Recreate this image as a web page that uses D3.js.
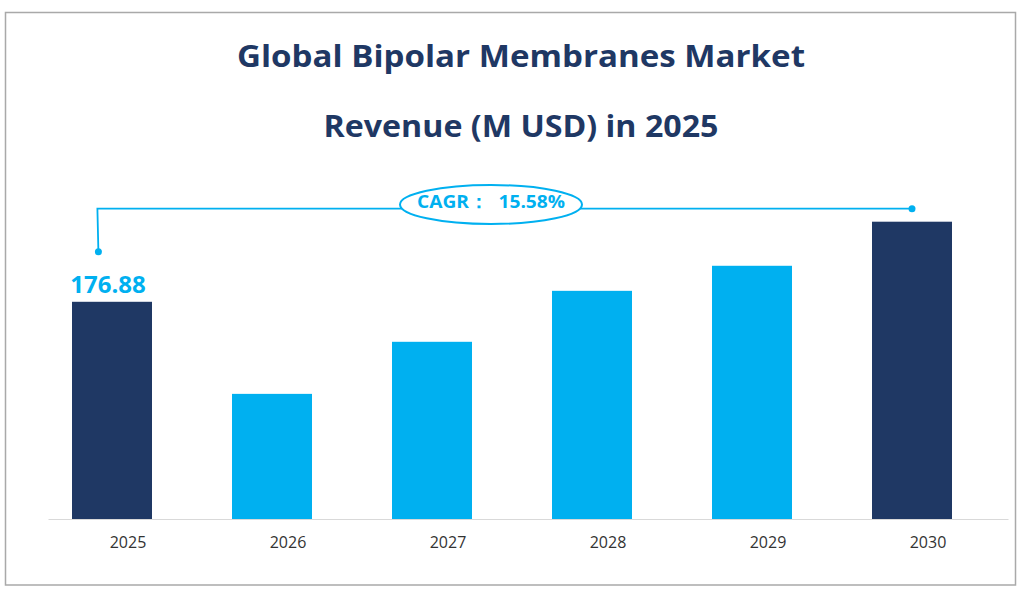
<!DOCTYPE html>
<html>
<head>
<meta charset="utf-8">
<script src="https://cdn.jsdelivr.net/npm/d3@7"></script>
<style>
  html, body { margin: 0; padding: 0; background: #fff; }
  svg { display: block; }
  text { font-family: "Open Sans", "Noto Sans", sans-serif; }
</style>
</head>
<body>
<svg id="chart" width="1024" height="594"></svg>
<script>
// ---- data ----
const years = ["2025", "2026", "2027", "2028", "2029", "2030"];
const revenue = [176.88, 101.9, 144.3, 185.8, 206.2, 242.1];
const highlightYears = ["2025", "2030"];
const titleLines = ["Global Bipolar Membranes Market", "Revenue (M USD) in 2025"];
const cagrLabel = "CAGR：  15.58%";
const valueLabel = "176.88";

// ---- styles ----
const NAVY = "#1f3864";
const BLUE = "#00b0f0";

const svg = d3.select("#chart");
const W = 1024, H = 594;

// frame
svg.append("rect")
  .attr("x", 5.5).attr("y", 12.5)
  .attr("width", 1010).attr("height", 572.5)
  .attr("fill", "#fff")
  .attr("stroke", "#a9a9a9").attr("stroke-width", 1.5);

// title
const titleY = [67, 137];
const titleW = [568, 395];
titleLines.forEach((t, i) => {
  svg.append("text")
    .attr("x", W / 2 + 9).attr("y", titleY[i])
    .attr("text-anchor", "middle")
    .attr("font-size", 31).attr("font-weight", 700)
    .attr("fill", NAVY)
    .attr("textLength", titleW[i]).attr("lengthAdjust", "spacingAndGlyphs")
    .text(t);
});

// scales
const x = d3.scaleBand().domain(years).range([48, 1008]).padding(0);
const y = d3.scaleLinear().domain([0, 250]).range([519, 212]);

const step = x.step();
const barX = d => x(d) + step * 0.15;
const barW = step * 0.5;

// bars
svg.append("g").selectAll("rect")
  .data(years.map((yr, i) => ({ yr, v: revenue[i] })))
  .join("rect")
  .attr("x", d => barX(d.yr))
  .attr("y", d => y(d.v))
  .attr("width", barW)
  .attr("height", d => y(0) - y(d.v))
  .attr("fill", d => highlightYears.includes(d.yr) ? NAVY : BLUE);

// x axis
const axis = d3.axisBottom(x).tickSize(0).tickPadding(0);
const gx = svg.append("g").attr("transform", `translate(0,${y(0)})`).call(axis);
gx.select(".domain").attr("stroke", "#d9d9d9").attr("stroke-width", 1.2);
gx.selectAll(".tick text")
  .attr("y", 29)
  .attr("dy", 0)
  .attr("font-family", "'Open Sans', sans-serif")
  .attr("font-size", 16)
  .attr("fill", "#333");

// value label
svg.append("text")
  .attr("x", barX(years[0]) + barW / 2 - 4)
  .attr("y", y(revenue[0]) - 9)
  .attr("text-anchor", "middle")
  .attr("font-size", 24).attr("font-weight", 700)
  .attr("fill", BLUE)
  .text(valueLabel);

// CAGR annotation
const lx = barX(years[0]) + barW * 0.33;
const ly = y(revenue[0]) - 50;
const rx = barX(years[5]) + barW / 2;
const ry = y(revenue[5]) - 13;
svg.append("path")
  .attr("d", `M${lx},${ly} L${lx - 1},${ry} L${rx},${ry}`)
  .attr("fill", "none").attr("stroke", BLUE).attr("stroke-width", 1.8);
svg.append("circle").attr("cx", lx).attr("cy", ly).attr("r", 3.5).attr("fill", BLUE);
svg.append("circle").attr("cx", rx).attr("cy", ry).attr("r", 3.5).attr("fill", BLUE);

const ex = 491, ey = 204.5;
svg.append("ellipse")
  .attr("cx", ex).attr("cy", ey).attr("rx", 91).attr("ry", 19.5)
  .attr("fill", "#fff").attr("stroke", BLUE).attr("stroke-width", 2);
svg.append("text")
  .attr("x", ex).attr("y", ey + 3.5)
  .attr("text-anchor", "middle")
  .attr("font-size", 18.5).attr("font-weight", 700)
  .attr("fill", BLUE)
  .attr("xml:space", "preserve")
  .style("white-space", "pre")
  .attr("textLength", 148).attr("lengthAdjust", "spacingAndGlyphs")
  .text(cagrLabel);
</script>
</body>
</html>
